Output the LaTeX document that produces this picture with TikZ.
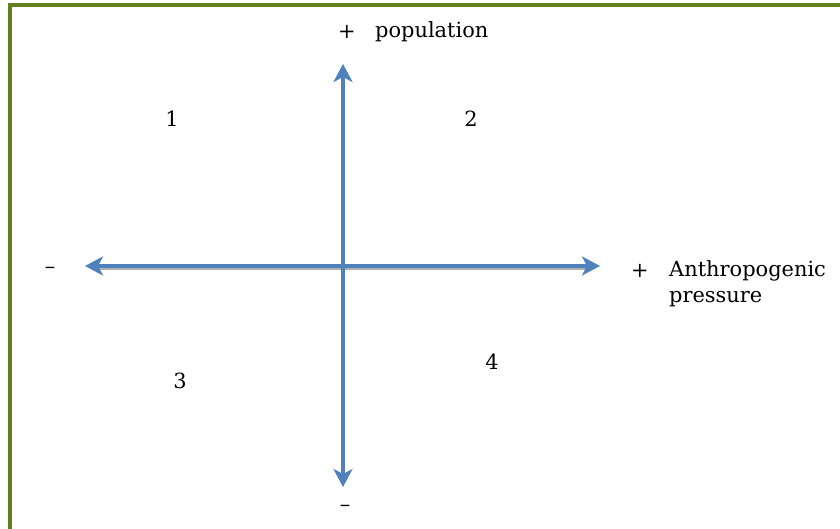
\documentclass[tikz,border=0pt]{standalone}
\usepackage{fontspec}
\setmainfont{DejaVu Serif}
\usetikzlibrary{arrows.meta}
\definecolor{frame}{RGB}{98,128,34}
\definecolor{axisblue}{RGB}{79,129,189}
\definecolor{shadowgray}{RGB}{175,175,175}
\tikzset{
  axisline/.style={draw=axisblue, line width=4.5bp, {Stealth[length=18bp,width=19bp,inset=5bp]}-{Stealth[length=18bp,width=19bp,inset=5bp]}},
  shadowline/.style={draw=shadowgray, line width=3bp},
  lbl/.style={font=\fontsize{21}{26}\selectfont, inner sep=0pt, text=black},
}
\begin{document}
\begin{tikzpicture}[x=1bp,y=-1bp]
\useasboundingbox (0,0) rectangle (840,529);
\fill[white] (0,0) rectangle (840,529);
% frame (left and top)
\draw[frame, line width=3.5bp] (10,529) -- (10,5) -- (840,5);
% axis end points
\coordinate (L) at (85,266);
\coordinate (R) at (600,266);
\coordinate (T) at (343,64);
\coordinate (B) at (343,487);
% shadow
\draw[shadowline] ([shift={(12,3)}]L) -- ([shift={(-12,3)}]R);
% axes
\path[axisline] (L) -- (R);
\path[axisline] (T) -- (B);
% labels
\node[lbl] (pp) at (347,32) {+};
\node[lbl, anchor=west] (pop) at (375,32) {population};
\node[lbl] (q1) at (172,119) {1};
\node[lbl] (q2) at (471,119) {2};
\node[lbl] (q3) at (180,381) {3};
\node[lbl] (q4) at (492,362) {4};
\node[lbl] (lm) at (50,270) {–};
\node[lbl] (rp) at (640,271) {+};
\node[lbl, anchor=west] (ap) at (669,271) {Anthropogenic};
\node[lbl, anchor=west] (pr) at (669,299) {pressure};
\node[lbl] (bm) at (345,508) {–};
\end{tikzpicture}
\end{document}
